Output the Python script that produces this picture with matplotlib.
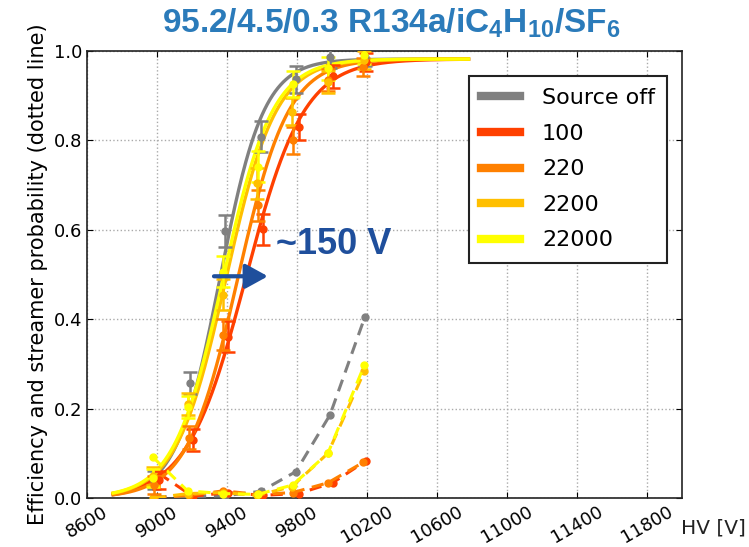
"""
Efficiency and streamer probability vs HV for the
95.2/4.5/0.3 R134a/iC4H10/SF6 mixture at different source rates.
"""
import numpy as np
import matplotlib
matplotlib.use("Agg")
import matplotlib.pyplot as plt

plt.rcParams["font.family"] = "DejaVu Sans"
plt.rcParams["mathtext.fontset"] = "custom"
plt.rcParams["mathtext.bf"] = "Liberation Sans:bold"
plt.rcParams["mathtext.rm"] = "Liberation Sans"
plt.rcParams["mathtext.default"] = "bf"

# labels and colours of the source attenuation settings
labels = ["Source off", "100", "220", "2200", "22000"]
colors = ["#808080", "#ff4000", "#ff8000", "#ffbf00", "#ffff00"]

# measured HV points [V]
hv_off = [8985, 9190, 9390, 9594, 9794, 9989, 10189]
hv_100 = [9010, 9204, 9404, 9604, 9810, 10004, 10194]
hv_220 = [8985, 9185, 9380, 9575, 9775, 9977, 10180]
hv_2200 = [8980, 9180, 9375, 9570, 9770, 9977, 10185]
hv_22000 = [8975, 9175, 9375, 9575, 9775, 9977, 10185]

# efficiency
eff_off = [0.040, 0.257, 0.597, 0.808, 0.937, 0.987, 0.987]
eff_100 = [0.040, 0.130, 0.361, 0.601, 0.830, 0.943, 0.975]
eff_220 = [0.030, 0.135, 0.365, 0.655, 0.800, 0.935, 0.965]
eff_2200 = [0.050, 0.210, 0.455, 0.704, 0.864, 0.931, 0.980]
eff_22000 = [0.045, 0.203, 0.506, 0.741, 0.926, 0.961, 0.991]

# efficiency errors
err_eff = [0.02, 0.025, 0.035, 0.035, 0.03, 0.025, 0.02]

# streamer probability
str_off = [0.003, 0.003, 0.005, 0.015, 0.059, 0.186, 0.406]
str_100 = [0.055, 0.004, 0.012, 0.006, 0.010, 0.034, 0.083]
str_220 = [0.000, 0.006, 0.016, 0.008, 0.012, 0.034, 0.080]
str_2200 = [0.000, 0.010, 0.012, 0.006, 0.025, 0.100, 0.283]
str_22000 = [0.092, 0.016, 0.010, 0.008, 0.029, 0.100, 0.297]

# sigmoid fit parameters: plateau, slope [1/V], HV at 50%
fit_emax = [0.982, 0.982, 0.982, 0.982, 0.982]
fit_lambda = [0.0080, 0.0060, 0.0069, 0.0070, 0.0071]
fit_hv50 = [9360, 9507, 9462, 9395, 9378]
fit_range = (8750, 10780)

hv_all = [hv_off, hv_100, hv_220, hv_2200, hv_22000]
eff_all = [eff_off, eff_100, eff_220, eff_2200, eff_22000]
str_all = [str_off, str_100, str_220, str_2200, str_22000]

fig = plt.figure(figsize=(7.49, 5.47), dpi=100)
ax = fig.add_axes([0.116, 0.0896, 0.7946, 0.8172])

hv_fit = np.linspace(fit_range[0], fit_range[1], 400)
handles = []
for i in range(len(labels)):
    c = colors[i]
    curve = fit_emax[i] / (1 + np.exp(-fit_lambda[i] * (hv_fit - fit_hv50[i])))
    ax.plot(hv_fit, curve, color=c, lw=2.4, zorder=3)
    ax.errorbar(hv_all[i], eff_all[i], yerr=err_eff, fmt="o", color=c, ms=5,
                elinewidth=1.8, capsize=5, capthick=1.8, zorder=4)
    ax.plot(hv_all[i], str_all[i], "--o", color=c, lw=2.2, ms=5,
            dashes=(4, 2.5), zorder=3)
    handles.append(plt.Line2D([], [], color=c, lw=6))

ax.set_xlim(8600, 12000)
ax.set_ylim(0, 1.0)
ax.set_xticks(np.arange(8600, 12000, 400))
ax.set_yticks(np.arange(0, 1.01, 0.2))
ax.set_yticklabels(["0.0", "0.2", "0.4", "0.6", "0.8", "1.0"])
ax.tick_params(direction="in", top=True, right=True, length=4, labelsize=13)
for lab in ax.get_xticklabels():
    lab.set_rotation(30)
ax.grid(True, color="#aaaaaa", linestyle=":", lw=1)
for s in ax.spines.values():
    s.set_color("#222222")
    s.set_linewidth(1.2)

ax.set_ylabel("Efficiency and streamer probability (dotted line)", fontsize=15)
ax.text(0.998, -0.067, "HV [V]", transform=ax.transAxes, fontsize=14.5,
        ha="left", va="center", color="#222222")

leg = ax.legend(handles, labels, loc="upper right", bbox_to_anchor=(0.975, 0.944),
                borderaxespad=0, fontsize=16, handlelength=1.75, handletextpad=1.0,
                labelspacing=0.7, borderpad=0.55, fancybox=False, framealpha=1)
leg.get_frame().set_edgecolor("#222222")
leg.get_frame().set_linewidth(1.5)

# shift of the efficiency curve at 50%
ax.annotate("", xy=(9634, 0.496), xytext=(9326, 0.496),
            arrowprops=dict(arrowstyle="-|>,head_length=0.4,head_width=0.22",
                            color="#1f4f9c", lw=3, mutation_scale=34,
                            shrinkA=0, shrinkB=0), zorder=6)
ax.text(9680, 0.568, "~150 V", fontsize=26, fontweight="bold", color="#1f4f9c",
        family="Liberation Sans", ha="left", va="center", zorder=6)

fig.text(0.522, 0.958, r"95.2/4.5/0.3 R134a/iC$_4$H$_{10}$/SF$_6$", fontsize=24,
         fontweight="bold", color="#2b7bba", family="Liberation Sans",
         ha="center", va="center")

fig.savefig("out.png", dpi=100)
